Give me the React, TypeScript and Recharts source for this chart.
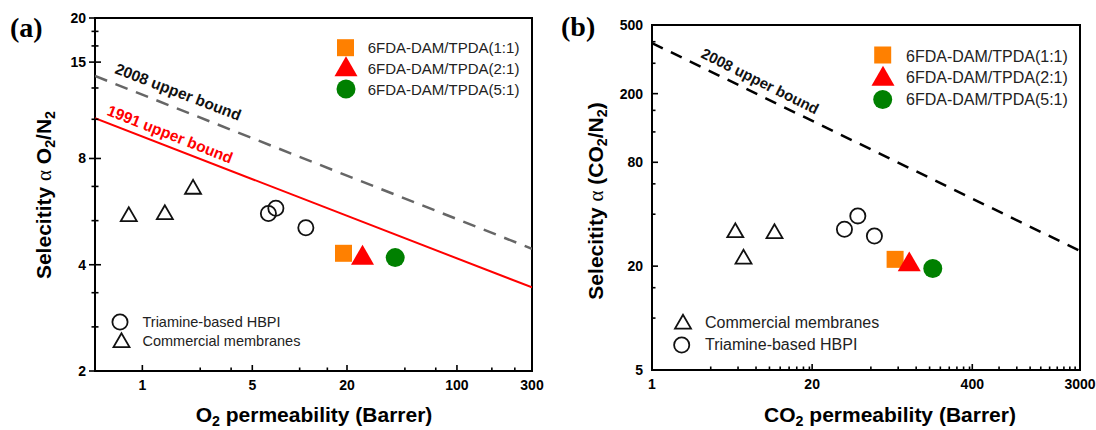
import React from "react";
import { ScatterChart, Scatter, XAxis, YAxis, ReferenceArea } from "recharts";

const font = "Arial, 'Liberation Sans', Helvetica, sans-serif";
const serif = "'Times New Roman', 'Liberation Serif', serif";

// (a) O2/N2
const aCommercial = [
  { x: 0.82, y: 5.48 },
  { x: 1.39, y: 5.55 },
  { x: 2.1, y: 6.55 },
];
const aHbpi = [
  { x: 6.33, y: 5.59 },
  { x: 7.06, y: 5.78 },
  { x: 10.95, y: 5.09 },
];
const aTpda11 = [{ x: 19.0, y: 4.31 }];
const aTpda21 = [{ x: 25.1, y: 4.18 }];
const aTpda51 = [{ x: 40.5, y: 4.19 }];
const aBound1991 = [
  { x: 0.5, y: 10.4 },
  { x: 300, y: 3.45 },
];
const aBound2008 = [
  { x: 0.5, y: 13.7 },
  { x: 300, y: 4.44 },
];
const aLabel2008 = [{ x: 1.69, y: 12.36 }];
const aLabel1991 = [{ x: 1.5, y: 9.38 }];
const aXTicks = [1, 5, 20, 100, 300];
const aXMinor = [2.333, 3.667, 10, 15, 46.67, 73.33, 166.7, 233.3];
const aYTicks = [2, 4, 8, 15, 20];
const aYMinor = [2.667, 3.333, 5.333, 6.667, 10.33, 12.67, 16.67, 18.33];

// (b) CO2/N2
const bCommercial = [
  { x: 4.75, y: 31.3 },
  { x: 9.89, y: 30.9 },
  { x: 5.54, y: 22.0 },
];
const bHbpi = [
  { x: 36.6, y: 32.7 },
  { x: 47.0, y: 39.1 },
  { x: 64.1, y: 29.9 },
];
const bTpda11 = [{ x: 94.4, y: 21.9 }];
const bTpda21 = [{ x: 123, y: 20.4 }];
const bTpda51 = [{ x: 191, y: 19.4 }];
const bBound2008 = [
  { x: 1, y: 393 },
  { x: 3000, y: 24.5 },
];
const bLabel2008 = [{ x: 7.57, y: 237 }];
const bXTicks = [1, 20, 400, 3000];
const bXMinor = [
  3, 5, 7, 9, 11, 13, 15, 17, 19,
  60, 100, 140, 180, 220, 260, 300, 340, 380,
  660, 920, 1180, 1440, 1700, 1960, 2220, 2480, 2740,
];
const bYTicks = [5, 20, 80, 200, 500];
const bYMinor = [10, 15, 40, 60, 120, 160, 300, 400];

const legendTpda = ["6FDA-DAM/TPDA(1:1)", "6FDA-DAM/TPDA(2:1)", "6FDA-DAM/TPDA(5:1)"];

const triPts = (cx: number, cy: number, s: number) => {
  const h = s * 0.866;
  return `${cx},${cy - (h * 2) / 3} ${cx - s / 2},${cy + h / 3} ${cx + s / 2},${cy + h / 3}`;
};

const OpenCircle = ({ cx, cy }: any) => (
  <circle cx={cx} cy={cy} r={7.6} fill="none" stroke="#111" strokeWidth={1.8} />
);
const OpenTriangle = ({ cx, cy }: any) => (
  <polygon points={triPts(cx, cy, 16)} fill="none" stroke="#111" strokeWidth={1.8} strokeLinejoin="miter" />
);
const OrangeSquare = ({ cx, cy }: any) => (
  <rect x={cx - 8.5} y={cy - 8.5} width={17} height={17} fill="#FF8000" />
);
const RedTriangle = ({ cx, cy }: any) => <polygon points={triPts(cx, cy, 23)} fill="#FF0000" />;
const GreenCircle = ({ cx, cy }: any) => <circle cx={cx} cy={cy} r={9.5} fill="#008000" />;
const NoDot = () => <g />;

const boundLabel = (text: string, color: string, angle: number, size: number) => (p: any) => (
  <text
    x={p.cx}
    y={p.cy}
    transform={`rotate(${angle} ${p.cx} ${p.cy})`}
    textAnchor="middle"
    dominantBaseline="central"
    fill={color}
    fontSize={size}
    fontWeight="bold"
    fontFamily={font}
  >
    {text}
  </text>
);

const xTick = (majors: number[]) => (p: any) => {
  const { x, y, payload } = p;
  const major = majors.includes(payload.value);
  return (
    <g>
      <line x1={x} x2={x} y1={y} y2={y - (major ? 6 : 3.5)} stroke="#000" strokeWidth={1.6} />
      {major && (
        <text x={x} y={y + 19} textAnchor="middle" fontSize={14} fontWeight="bold" fontFamily={font} fill="#000">
          {payload.value}
        </text>
      )}
    </g>
  );
};

const yTick = (majors: number[], out: boolean) => (p: any) => {
  const { x, y, payload } = p;
  const major = majors.includes(payload.value);
  const len = major ? 6 : 3.5;
  return (
    <g>
      <line x1={out ? x - len : x} x2={x + len} y1={y} y2={y} stroke="#000" strokeWidth={1.6} />
      {major && (
        <text x={x - 9} y={y + 5} textAnchor="end" fontSize={14} fontWeight="bold" fontFamily={font} fill="#000">
          {payload.value}
        </text>
      )}
    </g>
  );
};

function PanelA() {
  return (
    <ScatterChart width={556} height={430} margin={{ top: 18, right: 24, bottom: 19, left: 35 }}>
      <XAxis
        dataKey="x"
        type="number"
        scale="log"
        domain={[0.5, 300]}
        allowDataOverflow
        ticks={[...aXTicks, ...aXMinor]}
        interval={0}
        tick={xTick(aXTicks)}
        tickSize={0}
        tickMargin={0}
        tickLine={false}
        axisLine={false}
        height={40}
      />
      <YAxis
        dataKey="y"
        type="number"
        scale="log"
        domain={[2, 20]}
        allowDataOverflow
        ticks={[...aYTicks, ...aYMinor]}
        interval={0}
        tick={yTick(aYTicks, true)}
        tickSize={0}
        tickMargin={0}
        tickLine={false}
        axisLine={false}
        width={60}
      />
      <Scatter data={aBound2008} line={{ stroke: "#666", strokeWidth: 2.5, strokeDasharray: "13 9" }} shape={NoDot} isAnimationActive={false} />
      <Scatter data={aBound1991} line={{ stroke: "#FF0000", strokeWidth: 2 }} shape={NoDot} isAnimationActive={false} />
      <Scatter data={aLabel2008} shape={boundLabel("2008 upper bound", "#111", 21, 15.5)} isAnimationActive={false} />
      <Scatter data={aLabel1991} shape={boundLabel("1991 upper bound", "#FF0000", 21.5, 15.5)} isAnimationActive={false} />
      <Scatter data={aCommercial} shape={OpenTriangle} isAnimationActive={false} />
      <Scatter data={aHbpi} shape={OpenCircle} isAnimationActive={false} />
      <Scatter data={aTpda11} shape={OrangeSquare} isAnimationActive={false} />
      <Scatter data={aTpda21} shape={RedTriangle} isAnimationActive={false} />
      <Scatter data={aTpda51} shape={GreenCircle} isAnimationActive={false} />
      <ReferenceArea x1={0.5} x2={300} y1={2} y2={20} fill="none" stroke="#000" strokeWidth={2} />
    </ScatterChart>
  );
}

function PanelB() {
  return (
    <ScatterChart width={540} height={430} margin={{ top: 25, right: 16, bottom: 20, left: 36 }}>
      <XAxis
        dataKey="x"
        type="number"
        scale="log"
        domain={[1, 3000]}
        allowDataOverflow
        ticks={[...bXTicks, ...bXMinor]}
        interval={0}
        tick={xTick(bXTicks)}
        tickSize={0}
        tickMargin={0}
        tickLine={false}
        axisLine={false}
        height={40}
      />
      <YAxis
        dataKey="y"
        type="number"
        scale="log"
        domain={[5, 500]}
        allowDataOverflow
        ticks={[...bYTicks, ...bYMinor]}
        interval={0}
        tick={yTick(bYTicks, false)}
        tickSize={0}
        tickMargin={0}
        tickLine={false}
        axisLine={false}
        width={60}
      />
      <Scatter data={bBound2008} line={{ stroke: "#000", strokeWidth: 2.5, strokeDasharray: "12 9" }} shape={NoDot} isAnimationActive={false} />
      <Scatter data={bLabel2008} shape={boundLabel("2008 upper bound", "#111", 26.5, 15)} isAnimationActive={false} />
      <Scatter data={bCommercial} shape={OpenTriangle} isAnimationActive={false} />
      <Scatter data={bHbpi} shape={OpenCircle} isAnimationActive={false} />
      <Scatter data={bTpda11} shape={OrangeSquare} isAnimationActive={false} />
      <Scatter data={bTpda21} shape={RedTriangle} isAnimationActive={false} />
      <Scatter data={bTpda51} shape={GreenCircle} isAnimationActive={false} />
      <ReferenceArea x1={1} x2={3000} y1={5} y2={500} fill="none" stroke="#000" strokeWidth={2} />
    </ScatterChart>
  );
}

const SUB = 4;
const subSize = "0.68em";

function Overlay() {
  const t = { fontFamily: font, fontWeight: "bold", fontSize: 21, fill: "#000" } as const;
  const lg = (x: number, y: number, size: number, text: string) => (
    <text x={x} y={y} dominantBaseline="central" fontFamily={font} fontSize={size} fill="#222">
      {text}
    </text>
  );
  return (
    <svg width={1096} height={430} style={{ position: "absolute", left: 0, top: 0, pointerEvents: "none" }}>
      <text x={10} y={37} fontFamily={serif} fontWeight="bold" fontSize={28}>(a)</text>
      <text x={561} y={36} fontFamily={serif} fontWeight="bold" fontSize={28}>(b)</text>

      <text x={314} y={422} textAnchor="middle" {...t}>
        <tspan>O</tspan>
        <tspan dy={SUB} fontSize={subSize}>2</tspan>
        <tspan dy={-SUB}> permeability (Barrer)</tspan>
      </text>
      <text x={890} y={422} textAnchor="middle" {...t}>
        <tspan>CO</tspan>
        <tspan dy={SUB} fontSize={subSize}>2</tspan>
        <tspan dy={-SUB}> permeability (Barrer)</tspan>
      </text>
      <text x={51} y={195} textAnchor="middle" transform="rotate(-90 51 195)" {...t}>
        <tspan>Selecitity </tspan>
        <tspan fontFamily={serif} fontWeight="normal">α</tspan>
        <tspan> O</tspan>
        <tspan dy={SUB} fontSize={subSize}>2</tspan>
        <tspan dy={-SUB}>/N</tspan>
        <tspan dy={SUB} fontSize={subSize}>2</tspan>
      </text>
      <text x={603} y={201} textAnchor="middle" transform="rotate(-90 603 201)" {...t}>
        <tspan>Selecitity </tspan>
        <tspan fontFamily={serif} fontWeight="normal">α</tspan>
        <tspan> (CO</tspan>
        <tspan dy={SUB} fontSize={subSize}>2</tspan>
        <tspan dy={-SUB}>/N</tspan>
        <tspan dy={SUB} fontSize={subSize}>2</tspan>
        <tspan dy={-SUB}>)</tspan>
      </text>

      {/* panel a legends */}
      <OrangeSquare cx={345.5} cy={47.7} />
      <RedTriangle cx={346} cy={69.5} />
      <GreenCircle cx={346} cy={89} />
      {lg(367.7, 47.7, 15, legendTpda[0])}
      {lg(367.7, 68.3, 15, legendTpda[1])}
      {lg(367.7, 89, 15, legendTpda[2])}
      <OpenCircle cx={120} cy={322} />
      <OpenTriangle cx={121.5} cy={342.5} />
      {lg(142.5, 322, 14.5, "Triamine-based HBPI")}
      {lg(142.5, 341, 14.5, "Commercial membranes")}

      {/* panel b legends */}
      <OrangeSquare cx={882.7} cy={55} />
      <RedTriangle cx={883} cy={79} />
      <GreenCircle cx={882.7} cy={99.5} />
      {lg(906, 56, 16, legendTpda[0])}
      {lg(906, 77.5, 16, legendTpda[1])}
      {lg(906, 99, 16, legendTpda[2])}
      <OpenTriangle cx={683} cy={324} />
      <OpenCircle cx={681.7} cy={345} />
      {lg(705, 322, 16, "Commercial membranes")}
      {lg(705, 344.5, 16, "Triamine-based HBPI")}
    </svg>
  );
}

export default function App() {
  return (
    <div style={{ position: "absolute", left: 0, top: 0, width: 1096, height: 430, background: "#fff" }}>
      <div style={{ position: "absolute", left: 0, top: 0 }}>
        <PanelA />
      </div>
      <div style={{ position: "absolute", left: 556, top: 0 }}>
        <PanelB />
      </div>
      <Overlay />
    </div>
  );
}
